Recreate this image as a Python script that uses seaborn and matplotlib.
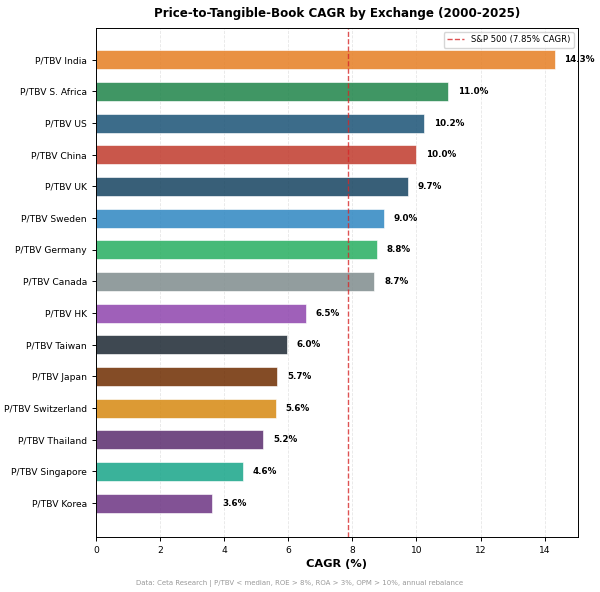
import pandas as pd
import matplotlib
matplotlib.use("Agg")
import matplotlib.pyplot as plt
import seaborn as sns

# datos (CAGR %, 2000-2025)
exchanges = ['P/TBV India', 'P/TBV S. Africa', 'P/TBV US', 'P/TBV China', 'P/TBV UK',
             'P/TBV Sweden', 'P/TBV Germany', 'P/TBV Canada', 'P/TBV HK', 'P/TBV Taiwan',
             'P/TBV Japan', 'P/TBV Switzerland', 'P/TBV Thailand', 'P/TBV Singapore', 'P/TBV Korea']
cagr = [14.32, 11.0, 10.24, 10.0, 9.74, 8.98, 8.78, 8.69, 6.55, 5.96, 5.66, 5.62, 5.22, 4.58, 3.63]
colores = ['#e67e22', '#1e8449', '#1a5276', '#c0392b', '#154360', '#2e86c1', '#27ae60', '#7f8c8d',
           '#8e44ad', '#1c2833', '#6e2c00', '#d68910', '#5b2c6f', '#17a589', '#6c3483']
sp500 = 7.85

df = pd.DataFrame({'Exchange': exchanges, 'CAGR': cagr})

fig, ax = plt.subplots(figsize=(6, 5.92), dpi=100)
sns.barplot(data=df, x='CAGR', y='Exchange', hue='Exchange', palette=colores, saturation=1,
            legend=False, width=0.6, alpha=0.85, edgecolor='white', linewidth=0.5, ax=ax)

ax.axvline(sp500, color='#d62728', linestyle='--', linewidth=1.0, alpha=0.8,
           label=f'S&P 500 ({sp500:.2f}% CAGR)')

for i, v in enumerate(cagr):
    ax.text(v + 0.3, i, f'{v:.1f}%', va='center', ha='left', fontsize=6.3, fontweight='bold')

ax.set_xlim(0, max(cagr) * 1.05)
ax.set_ylim(len(cagr) - 1 + 1.07, -1.01)
ax.set_xlabel('CAGR (%)', fontsize=8.2, fontweight='bold', labelpad=3)
ax.set_ylabel('')
ax.set_title('Price-to-Tangible-Book CAGR by Exchange (2000-2025)', fontsize=8.6, fontweight='bold', pad=8)
ax.tick_params(axis='both', labelsize=6.6, width=0.7, length=3)
for s in ax.spines.values():
    s.set_linewidth(0.7)
ax.grid(axis='x', linestyle='--', alpha=0.3, linewidth=0.6)
ax.set_axisbelow(True)
ax.legend(loc='upper right', fontsize=6.1)

fig.text(0.5, 0.012, 'Data: Ceta Research | P/TBV < median, ROE > 8%, ROA > 3%, OPM > 10%, annual rebalance',
         ha='center', fontsize=5, color='gray', alpha=0.8)
fig.subplots_adjust(left=0.16, right=0.963, top=0.953, bottom=0.093)
plt.savefig('out.png')
